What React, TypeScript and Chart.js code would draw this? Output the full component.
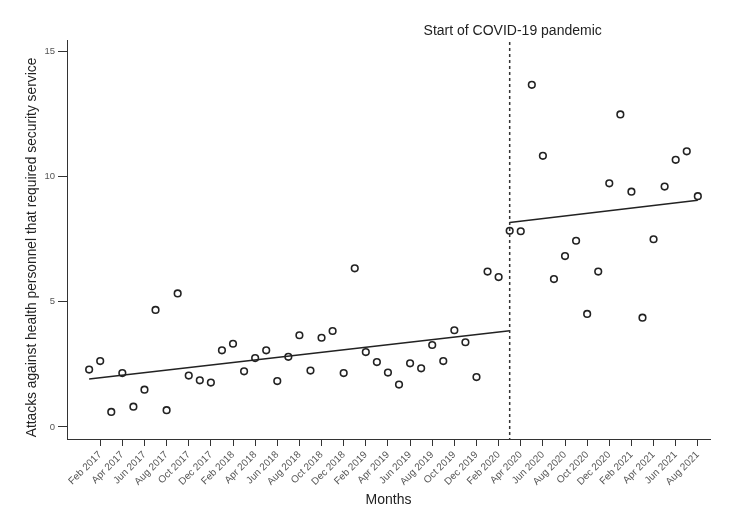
import { useEffect, useRef } from "react";
import { Chart, registerables } from "chart.js";

Chart.register(...registerables);

const MONTHS = [
  "Jan 2017", "Feb 2017", "Mar 2017", "Apr 2017", "May 2017", "Jun 2017",
  "Jul 2017", "Aug 2017", "Sep 2017", "Oct 2017", "Nov 2017", "Dec 2017",
  "Jan 2018", "Feb 2018", "Mar 2018", "Apr 2018", "May 2018", "Jun 2018",
  "Jul 2018", "Aug 2018", "Sep 2018", "Oct 2018", "Nov 2018", "Dec 2018",
  "Jan 2019", "Feb 2019", "Mar 2019", "Apr 2019", "May 2019", "Jun 2019",
  "Jul 2019", "Aug 2019", "Sep 2019", "Oct 2019", "Nov 2019", "Dec 2019",
  "Jan 2020", "Feb 2020", "Mar 2020", "Apr 2020", "May 2020", "Jun 2020",
  "Jul 2020", "Aug 2020", "Sep 2020", "Oct 2020", "Nov 2020", "Dec 2020",
  "Jan 2021", "Feb 2021", "Mar 2021", "Apr 2021", "May 2021", "Jun 2021",
  "Jul 2021", "Aug 2021",
];

const ATTACKS = [
  2.29, 2.63, 0.6, 2.15, 0.81, 1.49, 4.67, 0.67, 5.33, 2.05, 1.86, 1.77,
  3.06, 3.32, 2.22, 2.75, 3.06, 1.83, 2.8, 3.66, 2.25, 3.56, 3.83, 2.15,
  6.33, 2.99, 2.59, 2.17, 1.69, 2.54, 2.34, 3.27, 2.63, 3.86, 3.38, 1.99,
  6.2, 5.98, 7.83, 7.81, 13.65, 10.82, 5.9, 6.82, 7.43, 4.51, 6.2, 9.72,
  12.47, 9.39, 4.36, 7.49, 9.59, 10.66, 11.0, 9.21,
];

const TICK_MONTHS = [
  "Feb 2017", "Apr 2017", "Jun 2017", "Aug 2017", "Oct 2017", "Dec 2017",
  "Feb 2018", "Apr 2018", "Jun 2018", "Aug 2018", "Oct 2018", "Dec 2018",
  "Feb 2019", "Apr 2019", "Jun 2019", "Aug 2019", "Oct 2019", "Dec 2019",
  "Feb 2020", "Apr 2020", "Jun 2020", "Aug 2020", "Oct 2020", "Dec 2020",
  "Feb 2021", "Apr 2021", "Jun 2021", "Aug 2021",
];

const PRE_TREND_MONTHS = ["Jan 2017", "Mar 2020"];
const PRE_TREND = [1.91, 3.84];
const POST_TREND_MONTHS = ["Mar 2020", "Aug 2021"];
const POST_TREND = [8.16, 9.05];

const PANDEMIC_START = "Mar 2020";
const PANDEMIC_LABEL = "Start of COVID-19 pandemic";
const Y_TICKS = [0, 5, 10, 15];

const X_TITLE = "Months";
const Y_TITLE = "Attacks against health personnel that required security service";

const FONT = "'Liberation Sans', Arial, Helvetica, sans-serif";

const idx = (m: string) => MONTHS.indexOf(m);

export default function App() {
  const ref = useRef<HTMLCanvasElement | null>(null);

  useEffect(() => {
    document.body.style.margin = "0";
    const canvas = ref.current;
    if (!canvas) return;

    const annotationPlugin = {
      id: "annotations",
      afterDatasetsDraw(chart: any) {
        const { ctx, chartArea, scales } = chart;
        const x = scales.x.getPixelForValue(idx(PANDEMIC_START));
        ctx.save();
        ctx.strokeStyle = "#333";
        ctx.lineWidth = 1.5;
        ctx.setLineDash([3, 3]);
        ctx.beginPath();
        ctx.moveTo(x, chartArea.top + 2);
        ctx.lineTo(x, chartArea.bottom);
        ctx.stroke();
        ctx.setLineDash([]);
        ctx.fillStyle = "#222";
        ctx.font = `14px ${FONT}`;
        ctx.textAlign = "center";
        ctx.textBaseline = "middle";
        ctx.fillText(PANDEMIC_LABEL, x + 3, 31);
        ctx.restore();
      },
      afterDraw(chart: any) {
        const { ctx, chartArea } = chart;
        ctx.save();
        ctx.fillStyle = "#222";
        ctx.font = `13.8px ${FONT}`;
        ctx.textAlign = "center";
        ctx.textBaseline = "middle";
        ctx.translate(32, (chartArea.top + chartArea.bottom) / 2 + 8);
        ctx.rotate(-Math.PI / 2);
        ctx.fillText(Y_TITLE, 0, 0);
        ctx.restore();
      },
    };

    const chart = new Chart(canvas, {
      type: "scatter",
      data: {
        datasets: [
          {
            label: "Attacks",
            data: ATTACKS.map((v, i) => ({ x: i, y: v })),
            pointRadius: 3.3,
            pointBorderWidth: 1.6,
            pointBorderColor: "#222",
            pointBackgroundColor: "rgba(255,255,255,0)",
            showLine: false,
          },
          {
            label: "Pre trend",
            data: PRE_TREND.map((v, i) => ({ x: idx(PRE_TREND_MONTHS[i]), y: v })),
            showLine: true,
            borderColor: "#222",
            borderWidth: 1.5,
            pointRadius: 0,
          },
          {
            label: "Post trend",
            data: POST_TREND.map((v, i) => ({ x: idx(POST_TREND_MONTHS[i]), y: v })),
            showLine: true,
            borderColor: "#222",
            borderWidth: 1.5,
            pointRadius: 0,
          },
        ],
      },
      options: {
        responsive: false,
        animation: false,
        layout: { padding: { top: 40, right: 19, left: 0, bottom: 0 } },
        plugins: {
          legend: { display: false },
          tooltip: { enabled: false },
        },
        scales: {
          x: {
            type: "linear",
            min: -2,
            max: 56.1,
            afterBuildTicks: (scale: any) => {
              scale.ticks = TICK_MONTHS.map((m) => ({ value: idx(m) }));
            },
            afterFit: (scale: any) => {
              scale.height = 91;
            },
            ticks: {
              autoSkip: false,
              minRotation: 45,
              maxRotation: 45,
              padding: 3,
              color: "#555",
              font: { family: FONT, size: 10 },
              callback: (v: any) => MONTHS[Number(v)] ?? "",
            },
            grid: {
              drawOnChartArea: false,
              drawTicks: true,
              tickLength: 7,
              color: "#333",
            },
            border: { display: true, color: "#333", width: 1 },
            title: {
              display: true,
              text: X_TITLE,
              color: "#222",
              font: { family: FONT, size: 14 },
              padding: { top: 0, bottom: 21.6 },
            },
          },
          y: {
            type: "linear",
            min: -0.48,
            max: 15.44,
            afterBuildTicks: (scale: any) => {
              scale.ticks = Y_TICKS.map((v) => ({ value: v }));
            },
            afterFit: (scale: any) => {
              scale.width = 67;
            },
            ticks: {
              padding: 3,
              color: "#555",
              font: { family: FONT, size: 9.5 },
            },
            grid: {
              drawOnChartArea: false,
              drawTicks: true,
              tickLength: 9,
              color: "#333",
            },
            border: { display: true, color: "#333", width: 1 },
            title: { display: false },
          },
        },
      },
      plugins: [annotationPlugin],
    } as any);

    return () => chart.destroy();
  }, []);

  return (
    <div style={{ width: 729, height: 530, background: "#fff" }}>
      <canvas ref={ref} width={729} height={530} />
    </div>
  );
}
